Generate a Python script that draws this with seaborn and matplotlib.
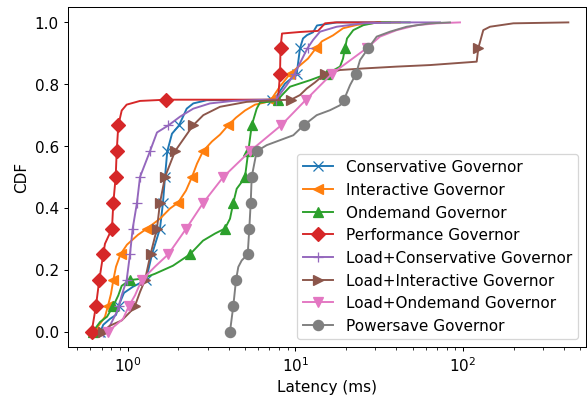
import numpy as np
import matplotlib
matplotlib.use("Agg")
import matplotlib.pyplot as plt
import seaborn as sns

plt.rcParams['font.family'] = ['DejaVu Sans']
plt.rcParams['font.size'] = 12

labels = ["Conservative Governor", "Interactive Governor", "Ondemand Governor",
          "Performance Governor", "Load+Conservative Governor",
          "Load+Interactive Governor", "Load+Ondemand Governor", "Powersave Governor"]
colors = ["tab:blue", "tab:orange", "tab:green", "tab:red",
          "tab:purple", "tab:brown", "tab:pink", "tab:gray"]
markers = ["x", "<", "^", "D", "+", ">", "v", "o"]

# marker latencies (ms) at CDF = 0, 1/12, ..., 11/12
blue_mk = [0.688, 0.882, 1.286, 1.396, 1.558, 1.623, 1.669, 1.722, 2.022, 7.254, 10.18, 10.65]
blue_lat = [0.715, 0.784, 0.852, 0.950, 1.075, 1.837, 2.248, 2.461, 2.958, 4.674, 7.77, 8.67,
            11.10, 11.73, 12.74, 13.45, 17.7, 36.7]
blue_cdf = [0.022, 0.041, 0.054, 0.125, 0.145, 0.640, 0.721, 0.738, 0.7483, 0.749, 0.764, 0.802,
            0.948, 0.959, 0.968, 0.990, 1.0, 1.0]

orange_mk = [0.630, 0.763, 0.821, 0.906, 1.303, 1.995, 2.417, 2.812, 3.964, 7.154, 9.286, 13.27]
orange_lat = [0.684, 0.732, 0.795, 0.852, 0.990, 1.152, 1.558, 1.787, 2.226, 2.589, 3.183, 3.551,
              4.424, 5.006, 5.742, 6.590, 8.095, 10.65, 11.89, 14.41, 16.76, 19.23, 23.30, 31.95, 42.0]
orange_cdf = [0.025, 0.048, 0.122, 0.210, 0.281, 0.313, 0.365, 0.398, 0.456, 0.543, 0.615, 0.637,
              0.692, 0.715, 0.734, 0.741, 0.793, 0.861, 0.883, 0.939, 0.958, 0.981, 0.992, 1.0, 1.0]

green_mk = [0.621, 0.821, 1.032, 2.352, 3.804, 4.264, 5.006, 5.238, 5.488, 7.876, 15.43, 19.76]
green_lat = [0.684, 0.753, 0.879, 0.921, 1.217, 1.455, 1.862, 2.812, 3.316, 4.074, 4.467, 4.804,
             5.878, 6.150, 7.353, 8.32, 9.286, 12.22, 18.45, 19.23, 20.31, 22.14, 25.41, 30.67, 48.0]
green_cdf = [0.031, 0.048, 0.117, 0.148, 0.171, 0.187, 0.213, 0.294, 0.317, 0.365, 0.462, 0.485,
             0.721, 0.741, 0.744, 0.765, 0.792, 0.813, 0.857, 0.883, 0.948, 0.975, 0.991, 1.0, 1.0]

red_mk = [0.610, 0.647, 0.677, 0.715, 0.806, 0.821, 0.848, 0.860, 0.879, 1.692, 8.095, 8.15]
red_lat = [0.732, 0.921, 0.986, 1.184, 7.876, 8.32, 10.65, 13.64, 15.02, 17.2, 32.0]
red_cdf = [0.284, 0.715, 0.734, 0.746, 0.75, 0.964, 0.969, 0.9725, 0.997, 1.0, 1.0]

purple_mk = [0.715, 0.887, 0.986, 1.032, 1.071, 1.136, 1.184, 1.358, 1.746, 7.662, 9.877, 11.81]
purple_lat = [0.784, 0.860, 0.921, 1.495, 2.050, 2.461, 3.096, 4.245, 6.152, 8.874, 12.74, 14.02,
              17.63, 25.41, 40.35, 72.8]
purple_cdf = [0.019, 0.063, 0.117, 0.644, 0.695, 0.721, 0.738, 0.746, 0.749, 0.797, 0.943, 0.970,
              0.986, 0.997, 1.0, 1.0]

brown_mk = [0.715, 1.105, 1.268, 1.368, 1.495, 1.558, 1.669, 1.915, 2.451, 9.415, 15.02, 123.2]
brown_lat = [0.784, 0.921, 1.032, 1.184, 2.824, 3.551, 5.124, 7.353, 10.65, 11.68, 13.09, 18.45,
             25.41, 40.18, 63.46, 120.5, 131.9, 144.7, 199.2, 424.0]
brown_cdf = [0.019, 0.036, 0.063, 0.128, 0.700, 0.727, 0.743, 0.748, 0.765, 0.786, 0.806, 0.846,
             0.851, 0.857, 0.862, 0.873, 0.975, 0.986, 0.997, 1.0]

pink_mk = [0.766, 1.018, 1.212, 1.746, 2.236, 2.824, 3.716, 5.361, 8.206, 11.57, 16.46, 26.62]
pink_lat = [0.840, 0.938, 1.105, 1.455, 31.95, 40.18, 52.88, 69.6, 95.8]
pink_cdf = [0.019, 0.041, 0.117, 0.210, 0.954, 0.975, 0.991, 0.997, 1.0]

gray_mk = [4.074, 4.264, 4.424, 5.195, 5.31, 5.414, 5.488, 5.878, 11.18, 19.49, 22.98, 27.21]
gray_lat = [4.566, 4.784, 6.744, 8.095, 9.716, 13.40, 16.08, 18.45, 21.17, 24.28, 30.53, 36.66,
            46.1, 63.46, 83.5]
gray_cdf = [0.209, 0.230, 0.603, 0.619, 0.635, 0.700, 0.716, 0.732, 0.797, 0.878, 0.954, 0.970,
            0.986, 0.997, 1.0]

series = [(blue_mk, blue_lat, blue_cdf), (orange_mk, orange_lat, orange_cdf),
          (green_mk, green_lat, green_cdf), (red_mk, red_lat, red_cdf),
          (purple_mk, purple_lat, purple_cdf), (brown_mk, brown_lat, brown_cdf),
          (pink_mk, pink_lat, pink_cdf), (gray_mk, gray_lat, gray_cdf)]


def merge(mk, lat, cdf):
    mk = np.asarray(mk, float)
    mk_cdf = np.arange(len(mk)) / 12.0
    L = np.concatenate([mk, np.asarray(lat, float)])
    C = np.concatenate([mk_cdf, np.asarray(cdf, float)])
    F = np.concatenate([np.ones(len(mk), bool), np.zeros(len(lat), bool)])
    order = np.lexsort((L, C))
    return L[order], C[order], list(np.flatnonzero(F[order]))


fig, ax = plt.subplots(figsize=(6.4, 4.4), dpi=91.72)
fig.subplots_adjust(left=0.1153, right=0.9978, top=0.9814, bottom=0.1387)

for (mk, lat, cdf), lab, col, m in zip(series, labels, colors, markers):
    x, y, idx = merge(mk, lat, cdf)
    sns.lineplot(x=x, y=y, ax=ax, sort=False, estimator=None, color=col,
                 linewidth=1.5, marker=m, markersize=8, markevery=idx,
                 markeredgecolor=col, markerfacecolor=col, markeredgewidth=1.0,
                 label=lab)

ax.set_xscale("log")
ax.set_xlim(0.4387, 538.3)
ax.set_ylim(-0.05, 1.05)
ax.set_xlabel("Latency (ms)")
ax.set_ylabel("CDF")
ax.legend(loc="lower right")

fig.savefig("out.png", dpi=91.72)
